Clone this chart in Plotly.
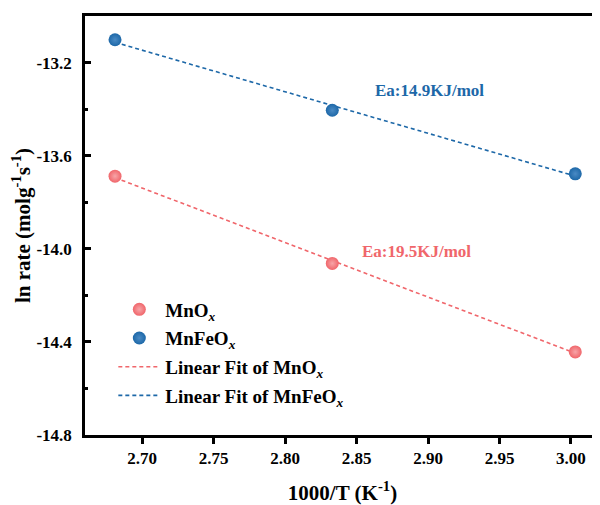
import numpy as np
import plotly.graph_objects as go

inv_T = [2.681, 2.833, 3.003]
mnox = [-13.688, -14.063, -14.443]
mnfeox = [-13.102, -13.405, -13.678]

red = "#F0666B"
blue = "#1D68A8"
FONT = "Liberation Serif"

fig = go.Figure()
x_arr = np.array(inv_T)

for ys, col, name, rank in [(mnox, red, "Linear Fit of MnO<sub><i>x</i></sub>", 3),
                            (mnfeox, blue, "Linear Fit of MnFeO<sub><i>x</i></sub>", 4)]:
    p = np.polyfit(x_arr, np.array(ys), 1)
    fx = [inv_T[0], inv_T[-1]]
    fy = list(np.polyval(p, fx))
    fig.add_trace(go.Scatter(x=fx, y=fy, mode="lines", name=name, legendrank=rank,
                             legendgroup="g%d" % rank,
                             line=dict(color=col, width=1.6, dash="4px,3px")))

fig.add_trace(go.Scatter(x=inv_T, y=mnox, mode="markers", name="MnO<sub><i>x</i></sub>",
                         legendrank=1, legendgroup="g1",
                         marker=dict(color=red, size=13, symbol="circle",
                                     gradient=dict(type="radial", color="#F7A5A8"))))
fig.add_trace(go.Scatter(x=inv_T, y=mnfeox, mode="markers", name="MnFeO<sub><i>x</i></sub>",
                         legendrank=2, legendgroup="g2",
                         marker=dict(color=blue, size=13, symbol="circle",
                                     gradient=dict(type="radial", color="#4A8AC4"))))

fig.add_annotation(x=2.9008, y=-13.32, text="Ea:14.9KJ/mol", showarrow=False,
                   font=dict(family=FONT, size=17, color=blue, weight="bold"))
fig.add_annotation(x=2.892, y=-14.012, text="Ea:19.5KJ/mol", showarrow=False,
                   font=dict(family=FONT, size=17, color=red, weight="bold"))

fig.update_layout(
    width=592, height=497,
    margin=dict(l=77, r=0, t=8, b=70),
    plot_bgcolor="white", paper_bgcolor="white",
    font=dict(family=FONT, size=17, color="black", weight="bold"),
    legend=dict(x=0.055, y=0.345, xanchor="left", yanchor="top",
                traceorder="grouped", tracegroupgap=1, bgcolor="rgba(0,0,0,0)",
                font=dict(family=FONT, size=19, color="black", weight="bold"),
                itemwidth=42),
    xaxis=dict(range=[2.66, 3.0203], tickvals=[2.70, 2.75, 2.80, 2.85, 2.90, 2.95, 3.00],
               ticktext=["2.70", "2.75", "2.80", "2.85", "2.90", "2.95", "3.00"],
               automargin=False,
               showgrid=False, zeroline=False, showline=True, linecolor="black", linewidth=2.5,
               mirror=True, ticks="outside", ticklen=6, tickwidth=2.5, tickcolor="black",
               tickfont=dict(family=FONT, size=17, weight="bold"),
               title=dict(text="1000/T (K<sup>-1</sup>)",
                          font=dict(family=FONT, size=21, weight="bold"), standoff=22)),
    yaxis=dict(range=[-14.8, -13.0], tickvals=[-14.8, -14.4, -14.0, -13.6, -13.2],
               ticktext=["-14.8", "-14.4", "-14.0", "-13.6", "-13.2"],
               automargin=False,
               showgrid=False, zeroline=False, showline=True, linecolor="black", linewidth=2.5,
               ticks="inside", ticklen=6, tickwidth=2.5, tickcolor="black",
               minor=dict(dtick=0.2, tick0=-14.8, ticks="inside", ticklen=3, tickwidth=2.5,
                          tickcolor="black", showgrid=False),
               ticklabelstandoff=7,
               tickfont=dict(family=FONT, size=17, weight="bold"),
               title=dict(text="ln rate (molg<sup>-1</sup>s<sup>-1</sup>)",
                          font=dict(family=FONT, size=21, weight="bold"), standoff=4)),
)

fig.write_html("out.html")
